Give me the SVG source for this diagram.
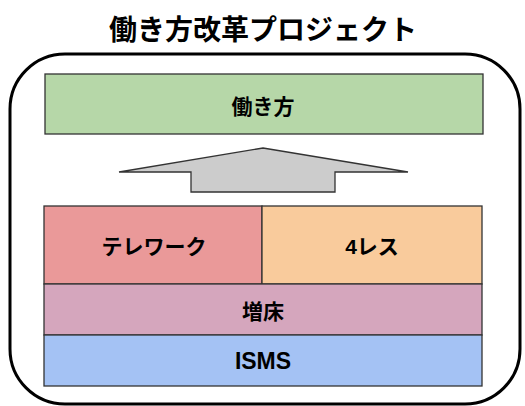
<svg xmlns="http://www.w3.org/2000/svg" width="525" height="406" viewBox="0 0 525 406">
<style>
.t{font-family:"Liberation Sans","Noto Sans CJK JP",sans-serif;font-weight:bold;fill:#000;text-anchor:middle;dominant-baseline:central;font-size:21px}
.b{stroke:#333;stroke-width:1.3}
</style>
<rect width="525" height="406" fill="#fff"/>
<text class="t" x="263" y="30" style="font-size:28px">働き方改革プロジェクト</text>
<rect id="frame" x="10" y="54" width="510" height="350" rx="55" ry="55" fill="none" stroke="#000" stroke-width="3"/>
<g id="hatarakikata"><rect class="b" x="45" y="74" width="438" height="60" fill="#b6d7a8"/><text class="t" x="263" y="106">働き方</text></g>
<g id="connectors"><path class="b" d="M263 148 L408 172 L335 172 L335 192 L191 192 L191 172 L119 172 Z" fill="#cccccc"/></g>
<g id="telework"><rect class="b" x="44" y="206" width="218" height="78" fill="#ea9999"/><text class="t" x="154" y="246">テレワーク</text></g>
<g id="4less"><rect class="b" x="262" y="206" width="220" height="78" fill="#f9cb9c"/><text class="t" x="372" y="246">4レス</text></g>
<g id="zousho"><rect class="b" x="44" y="284" width="438" height="51" fill="#d5a6bd"/><text class="t" x="263" y="311">増床</text></g>
<g id="isms"><rect class="b" x="44" y="335" width="438" height="51" fill="#a4c2f4"/><text class="t" x="263" y="361" style="font-size:23px">ISMS</text></g>
</svg>
